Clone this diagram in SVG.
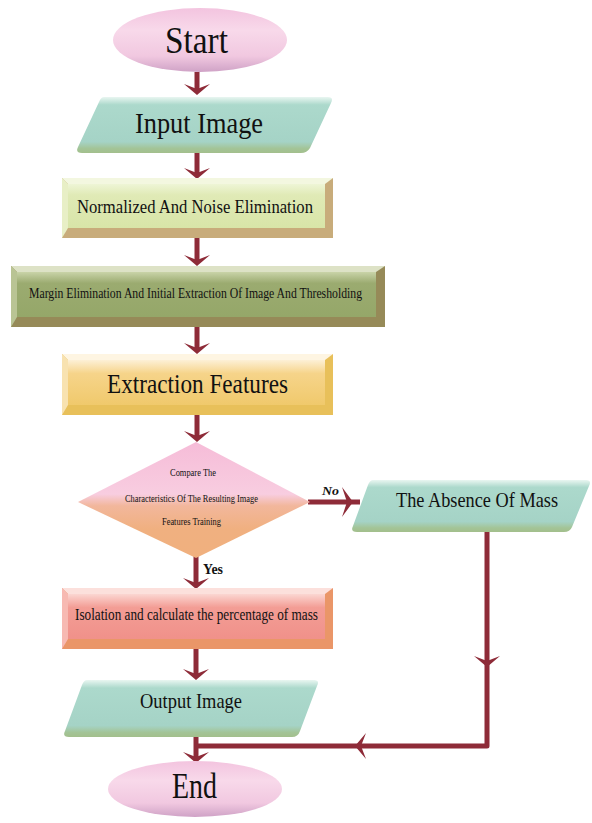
<svg xmlns="http://www.w3.org/2000/svg" width="592" height="823" viewBox="0 0 592 823">
<style>
.t{font-family:"Liberation Serif","Times New Roman",serif;fill:#111;text-anchor:start}
.ln{fill:none;stroke:#8e2b38;stroke-width:5}
.ah{fill:#8e2b38}
</style>
<defs>
<linearGradient id="gEll" x1="0" y1="0" x2="0" y2="1">
<stop offset="0" stop-color="#f3c4df"/><stop offset="0.35" stop-color="#f8d9ea"/><stop offset="0.75" stop-color="#f1c8e0"/><stop offset="1" stop-color="#cfa2c6"/>
</linearGradient>
<linearGradient id="gTeal" x1="0" y1="0" x2="0" y2="1">
<stop offset="0" stop-color="#e9f6f1"/><stop offset="0.14" stop-color="#acd9cc"/><stop offset="0.8" stop-color="#a5d3c6"/><stop offset="0.92" stop-color="#a3c497"/><stop offset="1" stop-color="#a3bf8c"/>
</linearGradient>
<linearGradient id="gNorm" x1="0" y1="0" x2="0" y2="1">
<stop offset="0" stop-color="#eef5d6"/><stop offset="0.25" stop-color="#e0eab6"/><stop offset="1" stop-color="#d8e5a8"/>
</linearGradient>
<linearGradient id="gMarg" x1="0" y1="0" x2="0" y2="1">
<stop offset="0" stop-color="#c9d3a8"/><stop offset="0.25" stop-color="#9bab70"/><stop offset="1" stop-color="#95a769"/>
</linearGradient>
<linearGradient id="gExt" x1="0" y1="0" x2="0" y2="1">
<stop offset="0" stop-color="#fdf0d6"/><stop offset="0.3" stop-color="#f6d48a"/><stop offset="1" stop-color="#f0c96c"/>
</linearGradient>
<linearGradient id="gIso" x1="0" y1="0" x2="0" y2="1">
<stop offset="0" stop-color="#fbd6d2"/><stop offset="0.3" stop-color="#f39d95"/><stop offset="1" stop-color="#f0918a"/>
</linearGradient>
<linearGradient id="gDia" x1="0" y1="0" x2="0" y2="1">
<stop offset="0" stop-color="#f6bcd8"/><stop offset="0.45" stop-color="#f8cde0"/><stop offset="0.55" stop-color="#f2b79c"/><stop offset="0.75" stop-color="#f0b080"/><stop offset="1" stop-color="#f0b07e"/>
</linearGradient>
<path id="headD" d="M0,0 L-13,-11 L0,-6 L13,-11 Z"/>
</defs>

<g id="connectors">
<line class="ln" x1="197" y1="72" x2="197" y2="90"/>
<use href="#headD" class="ah" x="197" y="95"/>
<line class="ln" x1="197" y1="153" x2="197" y2="174"/>
<use href="#headD" class="ah" x="197" y="179"/>
<line class="ln" x1="197" y1="238" x2="197" y2="261"/>
<use href="#headD" class="ah" x="197" y="266"/>
<line class="ln" x1="197" y1="327" x2="197" y2="349"/>
<use href="#headD" class="ah" x="197" y="354"/>
<line class="ln" x1="197" y1="415" x2="197" y2="437"/>
<use href="#headD" class="ah" x="197" y="442"/>
<line class="ln" x1="196" y1="556" x2="196" y2="584"/>
<use href="#headD" class="ah" x="196" y="589"/>
<line class="ln" x1="196" y1="649" x2="196" y2="675"/>
<use href="#headD" class="ah" x="196" y="680"/>
<line class="ln" x1="196" y1="737" x2="196" y2="758"/>
<use href="#headD" class="ah" x="196" y="763"/>
<line class="ln" x1="308" y1="502" x2="360" y2="502"/>
<path class="ah" d="M353,502 L342,487 L347,502 L342,517 Z"/>
<polyline class="ln" points="487,532 487,746 196,746" stroke-linejoin="round"/>
<use href="#headD" class="ah" x="487" y="667"/>
<path class="ah" d="M355,746 L366,733 L361,746 L366,759 Z"/>
<text class="t" x="322" y="495" font-size="13" font-weight="bold" font-style="italic" textLength="17" lengthAdjust="spacingAndGlyphs">No</text>
<text class="t" x="203" y="574" font-size="14" font-weight="bold" textLength="20" lengthAdjust="spacingAndGlyphs">Yes</text>
</g>

<g id="start">
<ellipse cx="200" cy="40" rx="87" ry="32" fill="url(#gEll)"/>
<text class="t" x="165" y="53" font-size="37" textLength="63" lengthAdjust="spacingAndGlyphs">Start</text>
</g>

<g id="input">
<path d="M104,97 L328,97 Q334,97 331,103 L310,148 Q307,153 301,153 L82,153 Q75,153 78,147 L99,102 Q101,97 104,97 Z" fill="url(#gTeal)"/>
<text class="t" x="135" y="133" font-size="30" textLength="128" lengthAdjust="spacingAndGlyphs">Input Image</text>
</g>

<g id="normalize">
<rect x="62" y="178" width="271" height="60" fill="#c8ac7b"/>
<polygon points="62,178 333,178 325,184 68,184" fill="#f3f7e0"/>
<polygon points="62,178 68,184 68,228 62,238" fill="#e8efc6"/>
<rect x="68" y="184" width="257" height="44" fill="url(#gNorm)"/>
<text class="t" x="77" y="213" font-size="19" textLength="236" lengthAdjust="spacingAndGlyphs">Normalized And Noise Elimination</text>
</g>

<g id="margin">
<rect x="11" y="266" width="374" height="61" fill="#968a58"/>
<polygon points="11,266 385,266 376,272 17,272" fill="#dde2c6"/>
<polygon points="11,266 17,272 17,317 11,327" fill="#b9c494"/>
<rect x="17" y="272" width="359" height="45" fill="url(#gMarg)"/>
<text class="t" x="29" y="298" font-size="14" textLength="333" lengthAdjust="spacingAndGlyphs">Margin Elimination And Initial Extraction Of Image And Thresholding</text>
</g>

<g id="extract">
<rect x="62" y="354" width="271" height="61" fill="#e8c05a"/>
<polygon points="62,354 333,354 325,360 68,360" fill="#fef5e2"/>
<polygon points="62,354 68,360 68,405 62,415" fill="#f8e2b0"/>
<rect x="68" y="360" width="257" height="45" fill="url(#gExt)"/>
<text class="t" x="107" y="393" font-size="27" textLength="181" lengthAdjust="spacingAndGlyphs">Extraction Features</text>
</g>

<g id="decision">
<polygon points="196,442 310,502 196,558 78,502" fill="url(#gDia)"/>
<text class="t" x="170" y="476" font-size="11" textLength="46" lengthAdjust="spacingAndGlyphs">Compare The</text>
<text class="t" x="125" y="502" font-size="11" textLength="133" lengthAdjust="spacingAndGlyphs">Characteristics Of The Resulting Image</text>
<text class="t" x="162" y="525" font-size="11" textLength="59" lengthAdjust="spacingAndGlyphs">Features Training</text>
</g>

<g id="absence">
<path d="M373,480 L586,480 Q592,480 589,486 L572,527 Q570,532 564,532 L357,532 Q350,532 353,526 L368,485 Q370,480 373,480 Z" fill="url(#gTeal)"/>
<text class="t" x="396" y="507" font-size="21" textLength="162" lengthAdjust="spacingAndGlyphs">The Absence Of Mass</text>
</g>

<g id="isolation">
<rect x="62" y="588" width="271" height="61" fill="#ea9668"/>
<polygon points="62,588 333,588 325,594 68,594" fill="#fce0dc"/>
<polygon points="62,588 68,594 68,639 62,649" fill="#f7b9b2"/>
<rect x="68" y="594" width="257" height="45" fill="url(#gIso)"/>
<text class="t" x="75" y="620" font-size="17" textLength="243" lengthAdjust="spacingAndGlyphs">Isolation and calculate the percentage of mass</text>
</g>

<g id="output">
<path d="M87,680 L314,680 Q320,680 317,686 L300,731 Q298,737 292,737 L69,737 Q62,737 65,731 L82,685 Q84,680 87,680 Z" fill="url(#gTeal)"/>
<text class="t" x="140" y="708" font-size="21" textLength="102" lengthAdjust="spacingAndGlyphs">Output Image</text>
</g>

<g id="end">
<ellipse cx="195" cy="789" rx="87" ry="28" fill="url(#gEll)"/>
<text class="t" x="172" y="798" font-size="35" textLength="45" lengthAdjust="spacingAndGlyphs">End</text>
</g>
</svg>
